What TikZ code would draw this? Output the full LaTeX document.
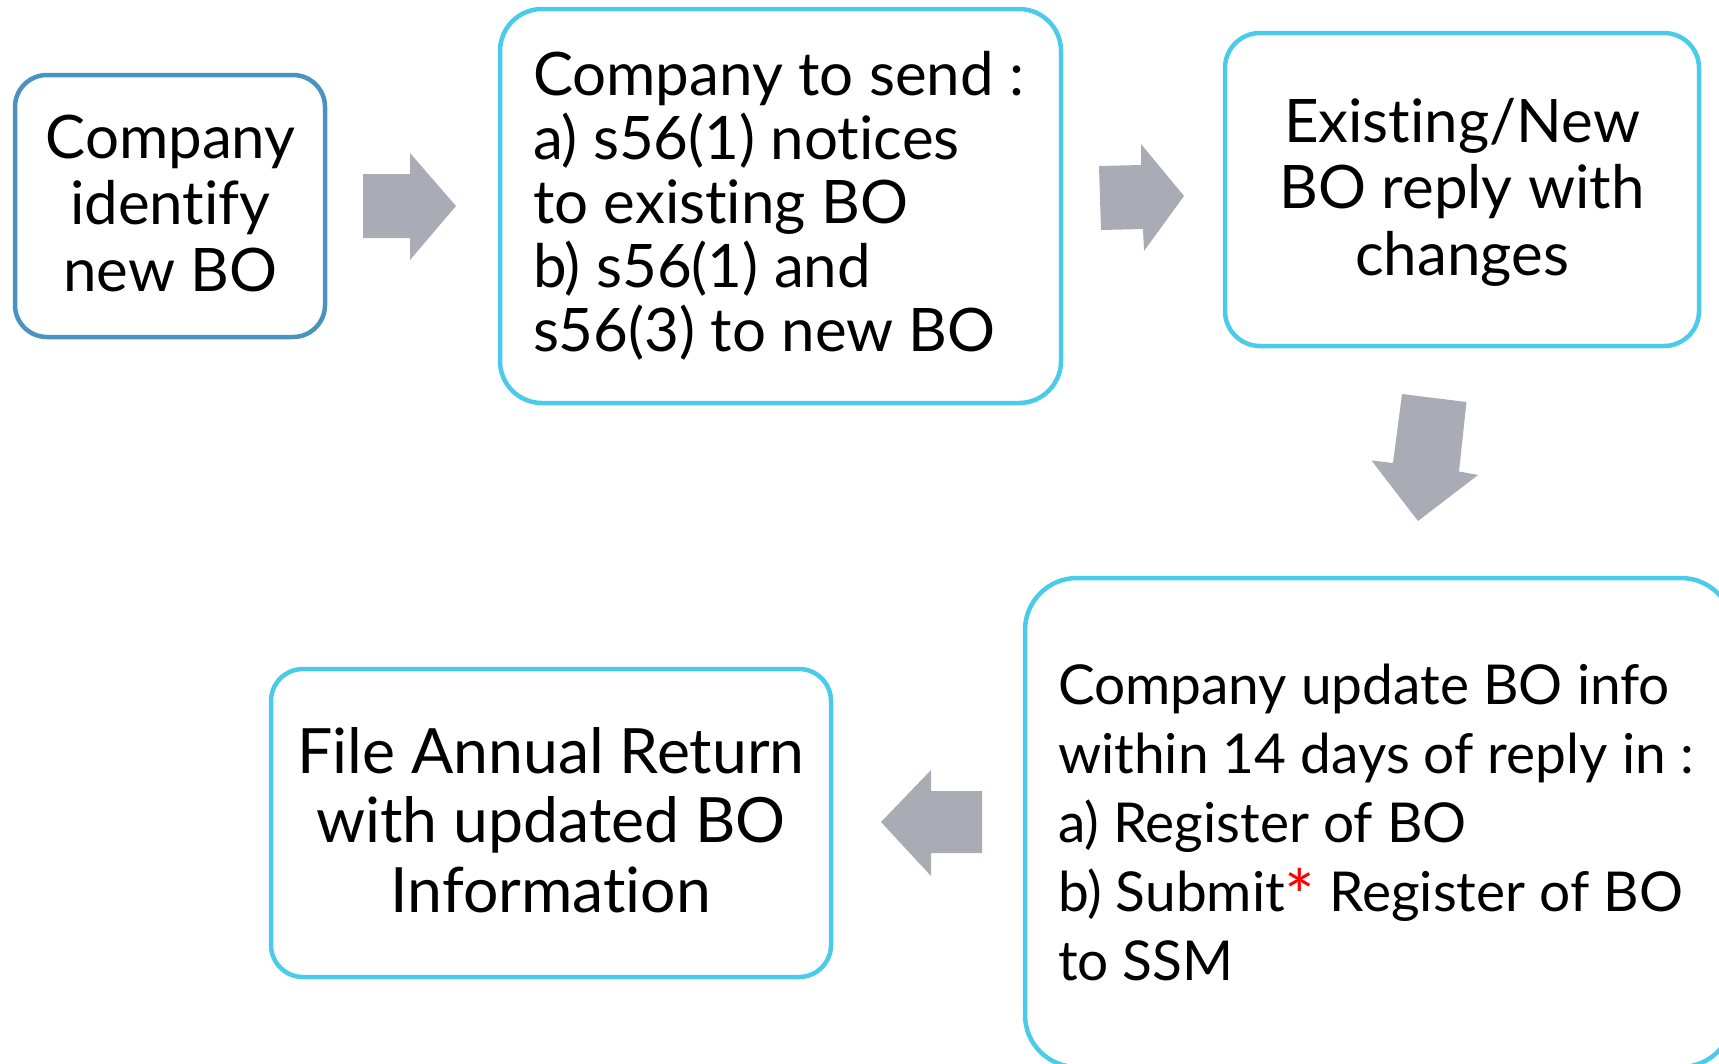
\documentclass[tikz,border=0pt]{standalone}
\usepackage{fontspec}
\setmainfont{Lato}[Ligatures=NoCommon]
\definecolor{boxblue}{HTML}{4A93BF}
\definecolor{boxcyan}{HTML}{4BCBEA}
\definecolor{arrowgray}{HTML}{A9ACB5}
\definecolor{astred}{HTML}{FF0000}
\newcommand\cblock[2]{\vtop{\baselineskip=#1pt\lineskiplimit=-1000pt\lineskip=0pt\halign{\hfil##\hfil\cr#2\crcr}}}
\newcommand\lblock[2]{\vtop{\baselineskip=#1pt\lineskiplimit=-1000pt\lineskip=0pt\halign{##\hfil\cr#2\crcr}}}
\newcommand\redast{\textcolor{astred}{\raisebox{-11pt}{\fontsize{72}{69}\selectfont *}}}
\begin{document}
\begin{tikzpicture}[x=1pt,y=-1pt,
  flowbox/.style={draw, rectangle, line width=4.5pt, fill=none, inner sep=0pt},
  txt/.style={inner sep=0pt, outer sep=0pt},
  blockarrow/.style={fill=arrowgray, draw=none}]
\useasboundingbox (0,0) rectangle (1719,1063);
% boxes
\node[flowbox, draw=boxblue, rounded corners=32pt, minimum width=310pt, minimum height=262pt] (b1) at (170,206) {};
\node[flowbox, draw=boxcyan, rounded corners=42pt, minimum width=561pt, minimum height=394pt] (b2) at (780.5,206) {};
\node[flowbox, draw=boxcyan, rounded corners=35pt, minimum width=474pt, minimum height=313pt] (b3) at (1462,189.5) {};
\node[flowbox, draw=boxcyan, rounded corners=52pt, minimum width=708pt, minimum height=489pt] (b4) at (1379,822.5) {};
\node[flowbox, draw=boxcyan, rounded corners=32pt, minimum width=560pt, minimum height=308pt] (b5) at (551,823) {};
% texts
\node[txt, anchor=base] (t1) at (170.5,158) {\fontsize{60}{66}\selectfont\cblock{66.5}{Company\cr identify\cr new BO}};
\node[txt, anchor=base west] (t2) at (533,95) {\fontsize{60}{64}\selectfont\lblock{64}{Company to send :\cr a) s56(1) notices\cr to existing BO\cr b) s56(1) and\cr s56(3) to new BO}};
\node[txt, anchor=base] (t3) at (1462,142) {\fontsize{60}{66}\selectfont\cblock{66.5}{Existing/New\cr BO reply with\cr changes}};
\node[txt, anchor=base west] (t4) at (1058,704) {\fontsize{55}{69}\selectfont\lblock{69}{Company update BO info\cr within 14 days of reply in :\cr a) Register of BO\cr b) Submit\redast{} Register of BO\cr to SSM}};
\node[txt, anchor=base] (t5) at (551,773) {\fontsize{62.5}{69}\selectfont\cblock{69.5}{File Annual Return\cr with updated BO\cr Information}};
% block arrows
\fill[blockarrow] (363,174) -- (410,174) -- (410,153) -- (456,206) -- (410,260) -- (410,238) -- (363,238) -- cycle;
\fill[blockarrow] (1099,166) -- (1141,165) -- (1141,144) -- (1184,196) -- (1144,251) -- (1143,229) -- (1101,230) -- cycle;
\fill[blockarrow] (1402,394) -- (1466.5,402) -- (1459,471.5) -- (1478,475) -- (1418,521) -- (1371.5,460.5) -- (1393,463) -- cycle;
\fill[blockarrow] (881,822) -- (931,770) -- (931,791) -- (982,791) -- (982,853) -- (931,853) -- (931,876) -- cycle;
\end{tikzpicture}
\end{document}
